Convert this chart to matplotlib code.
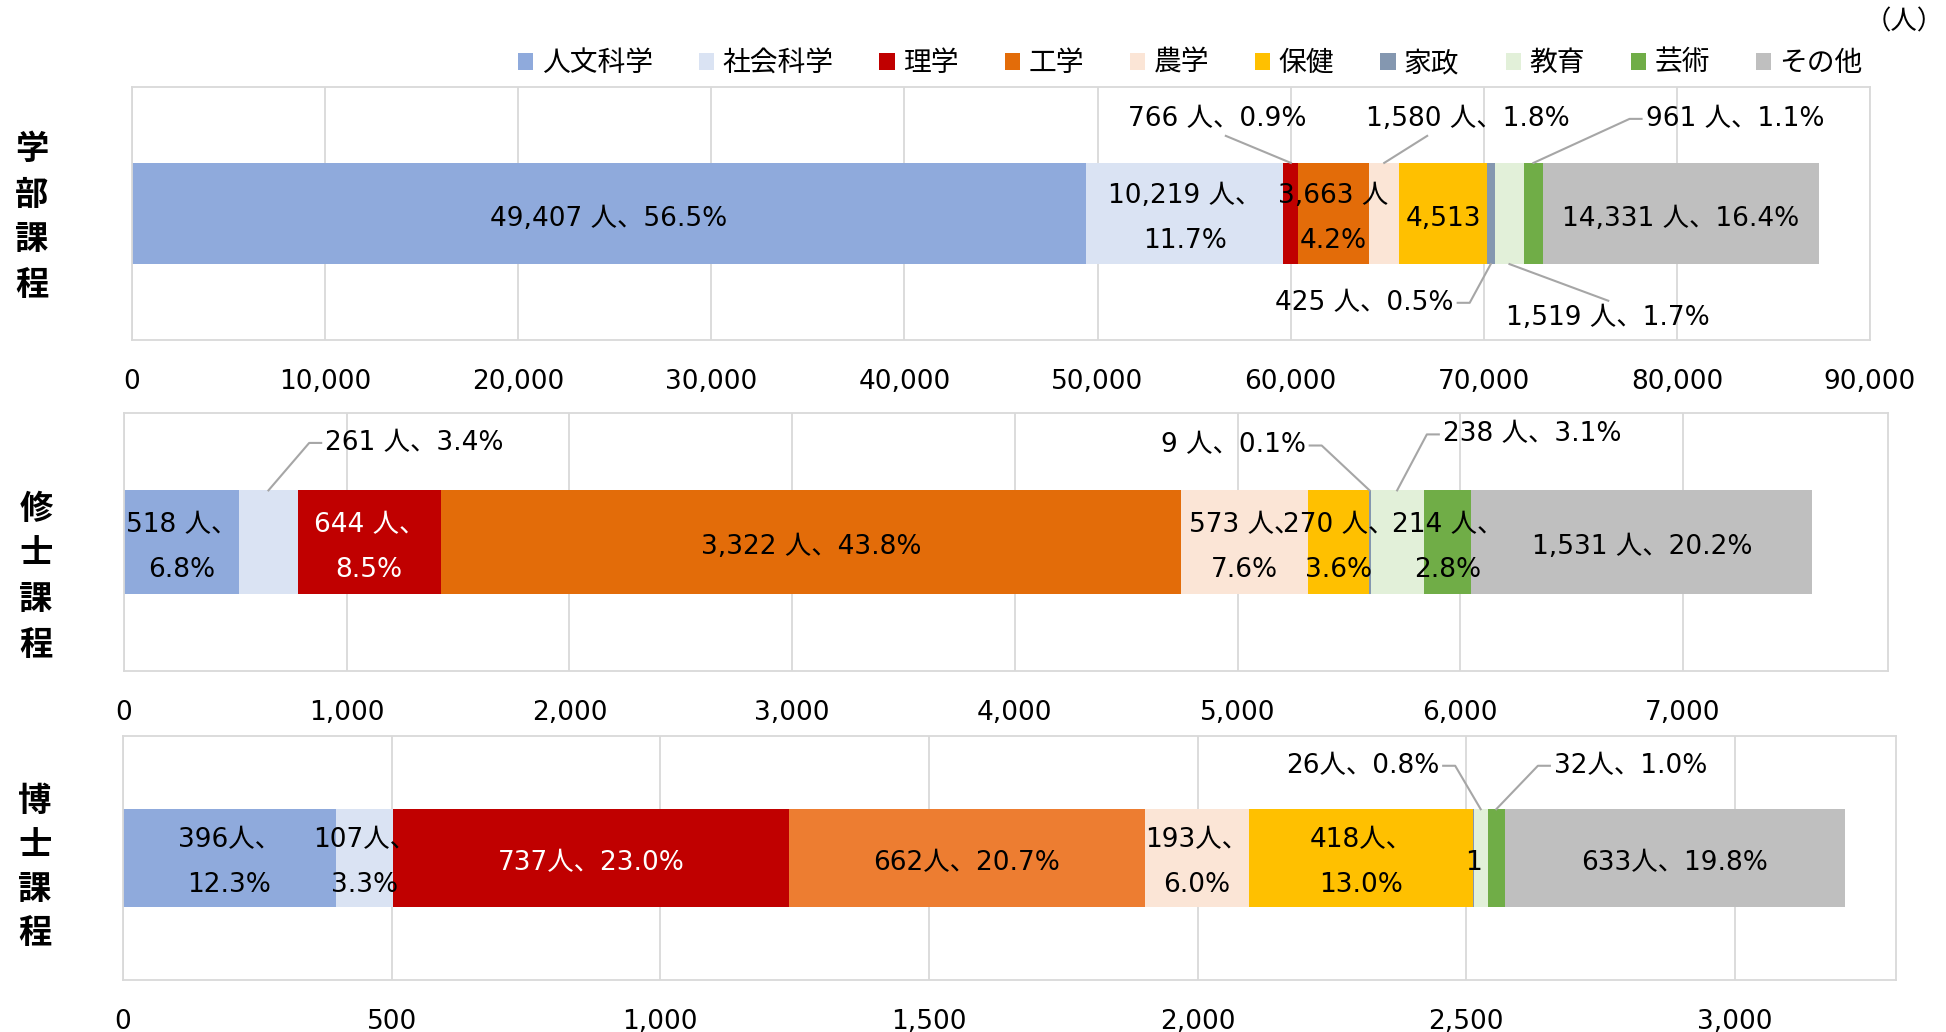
import matplotlib
matplotlib.use('Agg')
import matplotlib.pyplot as plt
import numpy as np
from matplotlib.patches import Patch
from matplotlib.lines import Line2D

plt.rcParams['font.family'] = ['DejaVu Sans', 'Noto Sans CJK JP']

# ---------------- data ----------------
categories = ['人文科学', '社会科学', '理学', '工学', '農学', '保健', '家政', '教育', '芸術', 'その他']
courses = ['学部課程', '修士課程', '博士課程']

bachelor = [49407, 10219, 766, 3663, 1580, 4513, 425, 1519, 961, 14331]
bachelor_pct = [56.5, 11.7, 0.9, 4.2, 1.8, 5.2, 0.5, 1.7, 1.1, 16.4]
master = [518, 261, 644, 3322, 573, 270, 9, 238, 214, 1531]
master_pct = [6.8, 3.4, 8.5, 43.8, 7.6, 3.6, 0.1, 3.1, 2.8, 20.2]
doctor = [396, 107, 737, 662, 193, 418, 1, 26, 32, 633]
doctor_pct = [12.3, 3.3, 23.0, 20.7, 6.0, 13.0, 0.0, 0.8, 1.0, 19.8]

bachelor_ticks = [0, 10000, 20000, 30000, 40000, 50000, 60000, 70000, 80000, 90000]
master_ticks = [0, 1000, 2000, 3000, 4000, 5000, 6000, 7000]
doctor_ticks = [0, 500, 1000, 1500, 2000, 2500, 3000]

# ---------------- styles / layout ----------------
colors = ['#8FAADC', '#DAE3F3', '#C00000', '#E36C09', '#FBE5D6', '#FFC000',
          '#8497B0', '#E2F0D9', '#70AD47', '#BFBFBF']
doctor_colors = list(colors)
doctor_colors[3] = '#ED7D31'
grid_c = '#D9D9D9'
lead_c = '#A6A6A6'
FS = 19

W, H = 1946, 1032
fig = plt.figure(figsize=(W / 100, H / 100), dpi=100)

def px_axes(l, r, t, b):
    return fig.add_axes([l / W, 1 - b / H, (r - l) / W, (b - t) / H])

panels = [
    dict(vals=bachelor, pct=bachelor_pct, ticks=bachelor_ticks, xmax=90000,
         box=(132, 1870, 87, 340), sep=' ', cols=colors,
         modes=['one', 'two', 'out', 'two_nc', 'out', 'num', 'out', 'out', 'out', 'one'],
         white=[],
         outside={2: (56180, 0.374, 0.55, 0, 0, -4),
                  4: (69180, 0.374, 0.30, 0, 0, -4),
                  8: (83000, 0.374, 0.0, 0.5, -12, 0),
                  6: (63820, -0.353, 1.0, 0.5, 12, 0),
                  7: (76445, -0.412, 0.5, 1.0, 0, 4)},
         chars_y=[150, 195, 240, 285], char_x=32),
    dict(vals=master, pct=master_pct, ticks=master_ticks, xmax=7920,
         box=(124, 1888, 413, 671), sep=' ', cols=colors,
         modes=['two', 'out', 'two', 'one', 'two', 'two', 'out', 'out', 'two', 'one'],
         white=[2],
         outside={1: (1304, 0.384, 0.0, 0.5, -12, 0),
                  6: (4980, 0.374, 1.0, 0.5, 12, 0),
                  7: (6322, 0.417, 0.0, 0.5, -12, 0)},
         chars_y=[510, 554, 600, 645], char_x=36),
    dict(vals=doctor, pct=doctor_pct, ticks=doctor_ticks, xmax=3300,
         box=(123, 1896, 736, 980), sep='', cols=doctor_colors,
         modes=['two', 'two', 'one', 'one', 'two', 'two', 'num', 'out', 'out', 'one'],
         white=[2],
         outside={7: (2307, 0.378, 1.0, 0.5, 12, 0),
                  8: (2806, 0.378, 0.0, 0.5, -12, 0)},
         chars_y=[801, 845, 890, 934], char_x=35),
]

leaders = []
for p, course in zip(panels, courses):
    l, r, t, b = p['box']
    ax = px_axes(l, r, t, b)
    vals = np.array(p['vals'], dtype=float)
    lefts = np.concatenate([[0], np.cumsum(vals)[:-1]])
    ax.barh(0, vals, left=lefts, height=0.4, color=p['cols'], zorder=2)
    ax.set_xlim(0, p['xmax'])
    ax.set_ylim(-0.5, 0.5)
    ax.set_yticks([])
    ax.set_xticks(p['ticks'])
    ax.set_xticklabels([f'{v:,}' for v in p['ticks']], fontsize=FS, color='black')
    ax.tick_params(axis='x', length=0, pad=21)
    ax.set_axisbelow(True)
    ax.xaxis.grid(True, color=grid_c, lw=1.3)
    for s in ax.spines.values():
        s.set_color(grid_c)
        s.set_linewidth(1.3)

    for i, (v, pc, mode) in enumerate(zip(p['vals'], p['pct'], p['modes'])):
        cx = lefts[i] + vals[i] / 2
        col = 'white' if i in p['white'] else 'black'
        head = f'{v:,}{p["sep"]}人、'
        if mode == 'one':
            s = f'{head}{pc:.1f}%'
        elif mode == 'two':
            s = f'{head}\n{pc:.1f}%'
        elif mode == 'two_nc':
            s = f'{v:,}{p["sep"]}人\n{pc:.1f}%'
        elif mode == 'num':
            s = f'{v:,}'
        else:
            s = f'{head}{pc:.1f}%'
        if mode == 'out':
            lx, ly, rx, ry, stub, dy = p['outside'][i]
            txt = ax.text(lx, ly, s, ha='center', va='center', fontsize=FS,
                          color='black', zorder=5, clip_on=False)
            edge = 0.2 if ly > 0 else -0.2
            leaders.append((ax, txt, cx, edge, rx, ry, stub, dy))
        else:
            ax.text(cx, -0.02, s, ha='center', va='center', fontsize=FS, color=col,
                    linespacing=1.95, zorder=5)

    for ch, yy in zip(course, p['chars_y']):
        fig.text(p['char_x'] / W, 1 - yy / H, ch, ha='center', va='center',
                 fontsize=24, fontweight='bold', family='Noto Sans CJK JP')

# legend
handles = [Patch(facecolor=c, edgecolor='none') for c in colors]
fig.legend(handles, categories, loc='center left', bbox_to_anchor=(518 / W, 1 - 63 / H),
           ncol=10, frameon=False, fontsize=20, handlelength=0.55, handleheight=0.55,
           handletextpad=0.3, columnspacing=1.66, borderpad=0, borderaxespad=0)

fig.text(1944 / W, 1 - 22 / H, '（人）', ha='right', va='center', fontsize=FS)

# leader lines
fig.canvas.draw()
renderer = fig.canvas.get_renderer()
inv = fig.transFigure.inverted()
for ax, txt, cx, edge, rx, ry, stub, dy in leaders:
    bb = txt.get_window_extent(renderer)
    px_ = bb.x0 + rx * bb.width + (-4 if rx == 0 and stub else (4 if rx == 1 and stub else 0))
    py_ = bb.y0 + ry * bb.height + dy
    qx, qy = ax.transData.transform((cx, edge))
    pts = [(px_, py_)]
    if stub:
        pts.append((px_ + stub, py_))
    pts.append((qx, qy))
    pf = inv.transform(np.array(pts))
    fig.add_artist(Line2D(pf[:, 0], pf[:, 1], transform=fig.transFigure,
                          color=lead_c, lw=1.5, zorder=4))

fig.savefig('out.png', dpi=100)
